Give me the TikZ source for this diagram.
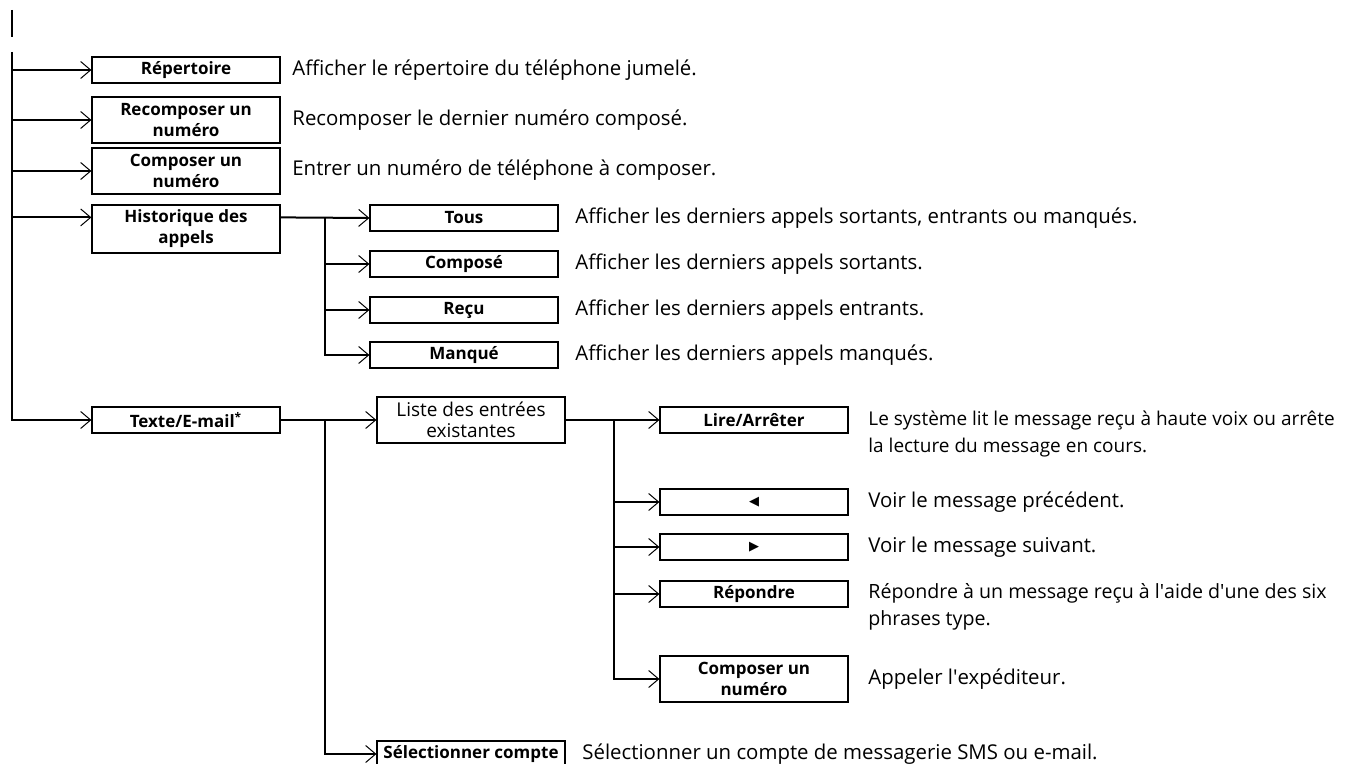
\documentclass[tikz,border=0pt]{standalone}
\usepackage{fontspec}
\setmainfont{Open Sans}
\newfontfamily\symfont{DejaVu Sans}
\usetikzlibrary{arrows.meta}
\begin{document}
\begin{tikzpicture}[x=0.5pt,y=-0.5pt,
  conn/.style={line width=1pt, -{Straight Barb[length=5pt,width=8.5pt,line width=0.5pt]}},
  trunk/.style={line width=1pt},
  box/.style={draw, line width=0.6pt, minimum width=94pt, inner sep=0pt, align=center,
    font=\fontsize{8.5}{10.5}\selectfont\bfseries},
  boxone/.style={box, minimum height=13pt},
  boxtwo/.style={box, minimum height=23pt},
  desc/.style={anchor=west, inner sep=0pt, align=left, font=\fontsize{10.2}{13.5}\selectfont}]
\useasboundingbox (0,0) rectangle (1348,764);

% first level
\node[boxone] (rep) at (186,70) {Répertoire};
\node[boxtwo] (recomp) at (186,120) {Recomposer un\\numéro};
\node[boxtwo] (comp) at (186,171) {Composer un\\numéro};
\node[boxtwo, minimum height=24pt] (hist) at (186,229) {Historique des\\appels};
\node[boxone] (texte) at (186,420) {Texte/E-mail\textsuperscript{*}};

% second level
\node[boxone] (tous) at (464,218) {Tous};
\node[boxone] (compose) at (464,264) {Composé};
\node[boxone] (recu) at (464,310) {Reçu};
\node[boxone] (manque) at (464,355) {Manqué};
\node[boxtwo, font=\fontsize{9.5}{10.5}\selectfont] (liste) at (471,420) {Liste des entrées\\existantes};
\node[boxone] (selc) at (471,754) {Sélectionner compte};

% third level
\node[boxone] (lire) at (754,420) {Lire/Arrêter};
\node[boxone] (prev) at (754,502) {\symfont\fontsize{6.5}{6.5}\selectfont ◀};
\node[boxone] (next) at (754,547) {\symfont\fontsize{6.5}{6.5}\selectfont ▶};
\node[boxone] (repo) at (754,594) {Répondre};
\node[boxtwo] (comptwo) at (754,679) {Composer un\\numéro};

% descriptions
\node[desc] (d1) at (292,70) {Afficher le répertoire du téléphone jumelé.};
\node[desc] (d2) at (292,120) {Recomposer le dernier numéro composé.};
\node[desc] (d3) at (292,170) {Entrer un numéro de téléphone à composer.};
\node[desc] (d4) at (575,218) {Afficher les derniers appels sortants, entrants ou manqués.};
\node[desc] (d5) at (575,264) {Afficher les derniers appels sortants.};
\node[desc] (d6) at (575,310) {Afficher les derniers appels entrants.};
\node[desc] (d7) at (575,355) {Afficher les derniers appels manqués.};
\node[desc, font=\fontsize{9.5}{13.5}\selectfont] (d8) at (868,434) {Le système lit le message reçu à haute voix ou arrête\\la lecture du message en cours.};
\node[desc] (d9) at (868,502) {Voir le message précédent.};
\node[desc] (d10) at (868,547) {Voir le message suivant.};
\node[desc, font=\fontsize{9.8}{13.5}\selectfont] (d11) at (868,607) {Répondre à un message reçu à l\textquotesingle aide d\textquotesingle une des six\\phrases type.};
\node[desc] (d12) at (868,679) {Appeler l\textquotesingle expéditeur.};
\node[desc] (d13) at (582,754) {Sélectionner un compte de messagerie SMS ou e-mail.};

% coordinates
\coordinate (t0) at (12,10);
\coordinate (t1) at (12,37);
\coordinate (m0) at (12,52);
\coordinate (hin) at ([yshift=-6.5pt]hist.north west);
\coordinate (hout) at ([yshift=-6.5pt]hist.north east);
\coordinate (hv) at (325,218);
\coordinate (tv) at (325,420);
\coordinate (lv) at (614,420);

% connectors
\draw[trunk] (t0) -- (t1);
\draw[conn] (m0) |- (texte.west);
\draw[conn] (m0 |- rep.west) -- (rep.west);
\draw[conn] (m0 |- recomp.west) -- (recomp.west);
\draw[conn] (m0 |- comp.west) -- (comp.west);
\draw[conn] (m0 |- hin) -- (hin);

\draw[conn] (hout) -- (tous.west);
\draw[conn] (hv) |- (manque.west);
\draw[conn] (hv |- compose.west) -- (compose.west);
\draw[conn] (hv |- recu.west) -- (recu.west);

\draw[conn] (texte.east) -- (liste.west);
\draw[conn] (tv) |- (selc.west);

\draw[conn] (liste.east) -- (lire.west);
\draw[conn] (lv) |- (comptwo.west);
\draw[conn] (lv |- prev.west) -- (prev.west);
\draw[conn] (lv |- next.west) -- (next.west);
\draw[conn] (lv |- repo.west) -- (repo.west);
\end{tikzpicture}
\end{document}
